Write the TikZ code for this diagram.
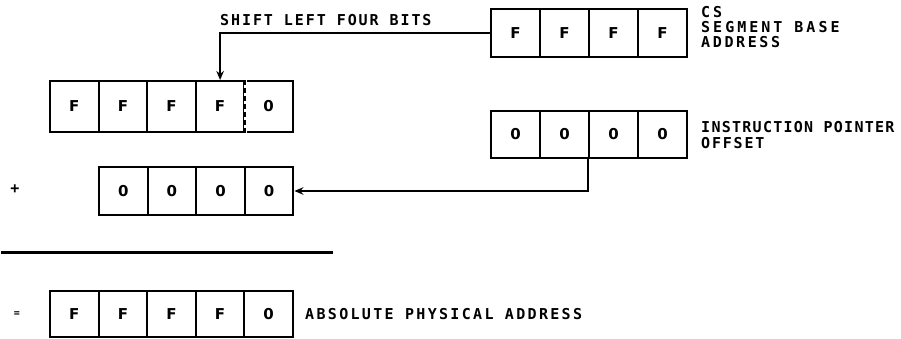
\documentclass[tikz,border=0pt]{standalone}
\usepackage{fontspec}
\newfontfamily\lblfont{DejaVu Sans Mono}
\newfontfamily\cellfont{DejaVu Sans}
\newcommand{\lsp}[2]{{\addfontfeatures{LetterSpace=#1}#2}}
\usetikzlibrary{arrows.meta,calc}
\begin{document}
\begin{tikzpicture}[x=1pt,y=-1pt,
  cell/.style={draw,line width=2pt,minimum width=48.6pt,minimum height=#1,inner sep=0pt,font=\cellfont\fontsize{15}{15}\selectfont\bfseries},
  cell/.default=48pt,
  lbl/.style={font=\lblfont\fontsize{15}{15}\selectfont\bfseries,inner sep=0pt,anchor=base west},
  conn/.style={line width=1.6pt,-{Stealth[length=9pt,width=7.5pt]}}]
\useasboundingbox (0,0) rectangle (901,339);
% CS register
\foreach \i/\t in {1/F,2/F,3/F,4/F}
  \node[cell] (cs\i) at ({491+24.5+49*(\i-1)},33) {\t};
% shifted segment
\foreach \i/\t in {1/F,2/F,3/F,4/F,5/0}
  \node[cell=51pt] (r2\i) at ({50+24.3+48.6*(\i-1)},106.5) {\t};
% IP register
\foreach \i/\t in {1/0,2/0,3/0,4/0}
  \node[cell=47pt] (ip\i) at ({491+24.5+49*(\i-1)},134.5) {\t};
% offset row
\foreach \i/\t in {1/0,2/0,3/0,4/0}
  \node[cell] (r3\i) at ({99+24.3+48.6*(\i-1)},191) {\t};
% result row
\foreach \i/\t in {1/F,2/F,3/F,4/F,5/0}
  \node[cell=46pt] (r5\i) at ({50+24.3+48.6*(\i-1)},314) {\t};
% dashed divider in row 2
\draw[white,line width=2.4pt] (r24.north east) -- (r24.south east);
\draw[line width=2pt,dash pattern=on 5pt off 3pt] (r24.north east) -- (r24.south east);
% labels
\node[lbl] (csA) at (701,18) {\lsp{15}{C\hspace{3pt}S}};
\node[lbl] (csB) at (701,33) {\lsp{20}{SEGMENT BASE}};
\node[lbl] (csC) at (701,48) {\lsp{17.5}{ADDRESS}};
\node[lbl] (ipA) at (701,133) {\lsp{8.5}{INSTRUCTION POINTER}};
\node[lbl] (ipB) at (701,149) {\lsp{12}{OFFSET}};
\node[lbl] (abslbl) at (305,319.5) {\lsp{15.5}{ABSOLUTE PHYSICAL ADDRESS}};
\node[lbl] (shift) at (220,26) {\lsp{12.8}{SHIFT LEFT FOUR BITS}};
\node[lbl,anchor=center] (plus) at (15,189) {+};
\node[lbl,anchor=center,font=\lblfont\fontsize{10}{10}\selectfont\bfseries] (eq) at (17,314) {=};
% connectors
\draw[conn] (cs1.west) -| (r24.north);
\coordinate (iptap) at ($(ip3.south west)$);
\draw[conn] (iptap) |- (r34.east);
% sum line
\coordinate (sumL) at (1,252);
\coordinate (sumR) at (333,252);
\draw[line width=3pt] (sumL) -- (sumR);
\end{tikzpicture}
\end{document}
